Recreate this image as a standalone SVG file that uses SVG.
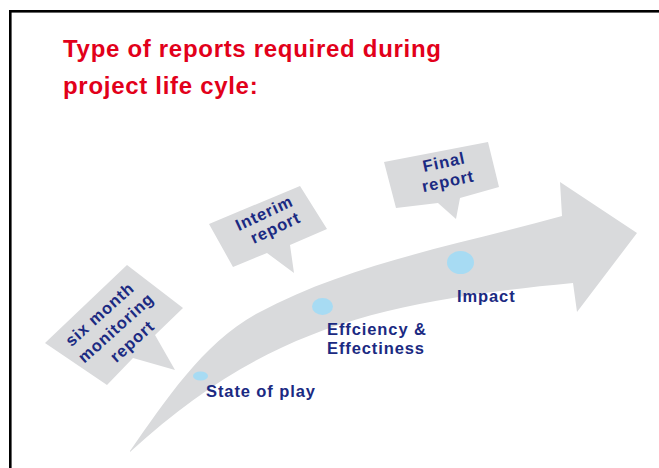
<svg xmlns="http://www.w3.org/2000/svg" width="659" height="468" viewBox="0 0 659 468">
<style>
.t{font-family:"Liberation Sans",Arial,"Helvetica",sans-serif;font-weight:bold}
.title{fill:#e2001a;font-size:24px;letter-spacing:0.7px}
.lbl{fill:#1b2a82;font-size:16.5px;letter-spacing:0.9px}
.ctr{text-anchor:middle}
.gray{fill:#d9dadc}
.dot{fill:#a7dbf3}
</style>
<rect width="659" height="468" fill="#ffffff"/>
<rect x="10.3" y="11.3" width="700" height="520" fill="none" stroke="#000" stroke-width="2.6"/>
<g id="title">
<text class="t title" x="63" y="57">Type of reports required during</text>
<text class="t title" x="63" y="94">project life cyle:</text>
</g>
<g id="connectors">
<path class="gray" d="M130,451 C166,400 203,343 258,313 C351,263 459,245 562,216 L560,182 L637,233 L577,312 L573,283 C373,302 263,331 130,452 Z"/>
</g>
<g id="callout-six-month">
<path class="gray" d="M127,265 L183,308 L155,335 L175,370 L133,358 L107,385 L45,343 Z"/>
<g transform="translate(117,329) rotate(-42)">
<text class="t lbl ctr" x="-3" y="-17">six month</text>
<text class="t lbl ctr" x="0" y="4">monitoring</text>
<text class="t lbl ctr" x="3" y="25">report</text>
</g>
</g>
<g id="callout-interim">
<path class="gray" d="M209,224 L300,186 L327,229 L290,245 L294,273 L267,253 L233,267 Z"/>
<g transform="translate(270,221) rotate(-25)">
<text class="t lbl ctr" x="-2" y="-4">Interim</text>
<text class="t lbl ctr" x="2" y="14">report</text>
</g>
</g>
<g id="callout-final">
<path class="gray" d="M384,162 L488,142 L499,187 L460,198 L456,219 L438,203 L396,208 Z"/>
<g transform="translate(446,172) rotate(-12)">
<text class="t lbl ctr" x="0" y="-4.5">Final</text>
<text class="t lbl ctr" x="0" y="15">report</text>
</g>
</g>
<g id="state-of-play">
<ellipse class="dot" cx="200.5" cy="376" rx="7.5" ry="4.5"/>
<text class="t lbl" x="206" y="397">State of play</text>
</g>
<g id="efficiency">
<ellipse class="dot" cx="322.5" cy="306.5" rx="10.5" ry="8.5"/>
<text class="t lbl" x="327" y="335">Effciency &amp;</text>
<text class="t lbl" x="327" y="354">Effectiness</text>
</g>
<g id="impact">
<ellipse class="dot" cx="460.5" cy="262.5" rx="13.5" ry="11.5"/>
<text class="t lbl" x="457" y="302">Impact</text>
</g>
</svg>
